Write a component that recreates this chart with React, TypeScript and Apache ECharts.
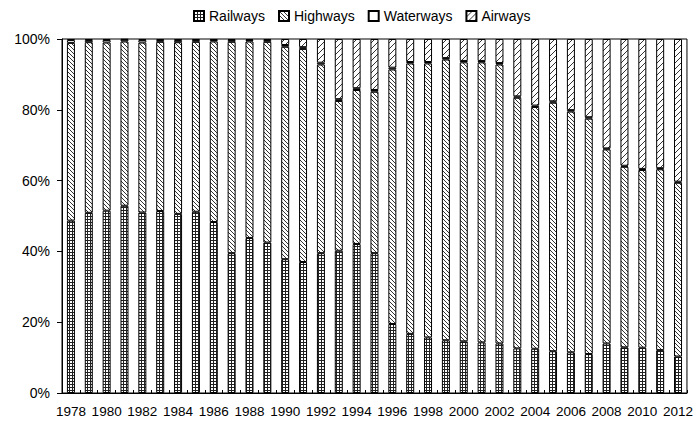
import React, { useEffect, useRef } from 'react';
import * as echarts from 'echarts';

const years = [
  '1978', '1979', '1980', '1981', '1982', '1983', '1984', '1985', '1986', '1987',
  '1988', '1989', '1990', '1991', '1992', '1993', '1994', '1995', '1996', '1997',
  '1998', '1999', '2000', '2001', '2002', '2003', '2004', '2005', '2006', '2007',
  '2008', '2009', '2010', '2011', '2012',
];

const railways = [
  48.7, 50.9, 51.5, 52.9, 51.0, 51.4, 50.6, 51.2, 48.3, 39.5,
  43.8, 42.5, 37.8, 37.0, 39.5, 40.2, 42.1, 39.5, 19.5, 16.7,
  15.7, 14.9, 14.6, 14.3, 14.0, 12.6, 12.5, 11.8, 11.5, 11.0,
  14.0, 12.9, 12.8, 12.1, 10.3,
];

const highways = [
  50.2, 48.2, 47.5, 46.4, 48.0, 47.8, 48.5, 48.0, 51.0, 59.7,
  55.5, 56.7, 60.0, 60.2, 53.3, 42.3, 43.5, 45.6, 71.9, 76.4,
  77.4, 79.3, 78.8, 79.1, 78.8, 70.8, 68.3, 70.2, 68.0, 66.5,
  54.8, 51.0, 50.2, 51.1, 49.1,
];

const waterways = [
  0.8, 0.6, 0.7, 0.5, 0.7, 0.5, 0.6, 0.5, 0.4, 0.5,
  0.4, 0.5, 0.5, 0.5, 0.5, 0.5, 0.5, 0.5, 0.5, 0.4,
  0.4, 0.4, 0.4, 0.4, 0.4, 0.4, 0.4, 0.4, 0.4, 0.4,
  0.3, 0.3, 0.3, 0.3, 0.3,
];

const airways = [
  0.3, 0.3, 0.3, 0.2, 0.3, 0.3, 0.3, 0.3, 0.3, 0.3,
  0.3, 0.3, 1.7, 2.3, 6.7, 17.0, 13.9, 14.4, 8.1, 6.5,
  6.5, 5.4, 6.2, 6.2, 6.8, 16.2, 18.8, 17.6, 20.1, 22.1,
  30.9, 35.8, 36.7, 36.5, 40.3,
];

const seriesNames = ['Railways', 'Highways', 'Waterways', 'Airways'];
const yMin = 0;
const yMax = 100;
const yInterval = 20;

function makePattern(size: number, pixels: (x: number, y: number) => boolean, ink: string) {
  const c = document.createElement('canvas');
  c.width = size;
  c.height = size;
  const ctx = c.getContext('2d')!;
  ctx.fillStyle = '#ffffff';
  ctx.fillRect(0, 0, size, size);
  ctx.fillStyle = ink;
  for (let x = 0; x < size; x++) {
    for (let y = 0; y < size; y++) {
      if (pixels(x, y)) ctx.fillRect(x, y, 1, 1);
    }
  }
  return { image: c, repeat: 'repeat', imageWidth: size, imageHeight: size } as any;
}

export default function App() {
  const ref = useRef<HTMLDivElement>(null);
  useEffect(() => {
    document.body.style.margin = '0';
    if (!ref.current) return;
    const chart = echarts.init(ref.current, null, { renderer: 'svg' });
    const railPat = makePattern(3, (x, y) => x === 0 || y === 0, '#222');
    const hwyPat = makePattern(4, (x, y) => x === y, '#333');
    const airPat = makePattern(6, (x, y) => x === 5 - y, '#333');
    const fills = [railPat, hwyPat, '#ffffff', airPat];
    const datas = [railways, highways, waterways, airways];
    const font = 'Arial, "Liberation Sans", sans-serif';

    chart.setOption({
      animation: false,
      backgroundColor: '#fff',
      textStyle: { fontFamily: font },
      legend: {
        top: 4,
        left: 188,
        itemWidth: 10,
        itemHeight: 10,
        itemGap: 13,
        icon: 'rect',
        textStyle: { fontSize: 14, color: '#000', fontFamily: font },
        data: seriesNames,
      },
      grid: {
        left: 62,
        right: 6,
        top: 39,
        bottom: 31,
        show: true,
        borderColor: '#000',
        borderWidth: 1,
        backgroundColor: 'transparent',
      },
      xAxis: {
        type: 'category',
        data: years,
        boundaryGap: true,
        axisLine: { lineStyle: { color: '#000', width: 1 } },
        axisTick: { show: true, inside: true, length: 3, interval: 0, alignWithLabel: false, lineStyle: { color: '#000' } },
        axisLabel: { interval: 1, fontSize: 13.5, color: '#000', margin: 11, fontFamily: font },
      },
      yAxis: {
        type: 'value',
        min: yMin,
        max: yMax,
        interval: yInterval,
        axisLine: { show: true, lineStyle: { color: '#000', width: 1 } },
        axisTick: { show: true, inside: false, length: 5, lineStyle: { color: '#000' } },
        splitLine: { show: false },
        axisLabel: { formatter: '{value}%', fontSize: 14, color: '#000', margin: 12, fontFamily: font },
      },
      series: seriesNames.map((name, i) => ({
        name,
        type: 'bar',
        stack: 'total',
        barWidth: 8,
        data: datas[i],
        itemStyle: { color: fills[i], borderColor: '#000', borderWidth: 1 },
        emphasis: { disabled: true },
      })),
    });
    return () => chart.dispose();
  }, []);
  return <div ref={ref} style={{ width: 696, height: 424 }} />;
}
